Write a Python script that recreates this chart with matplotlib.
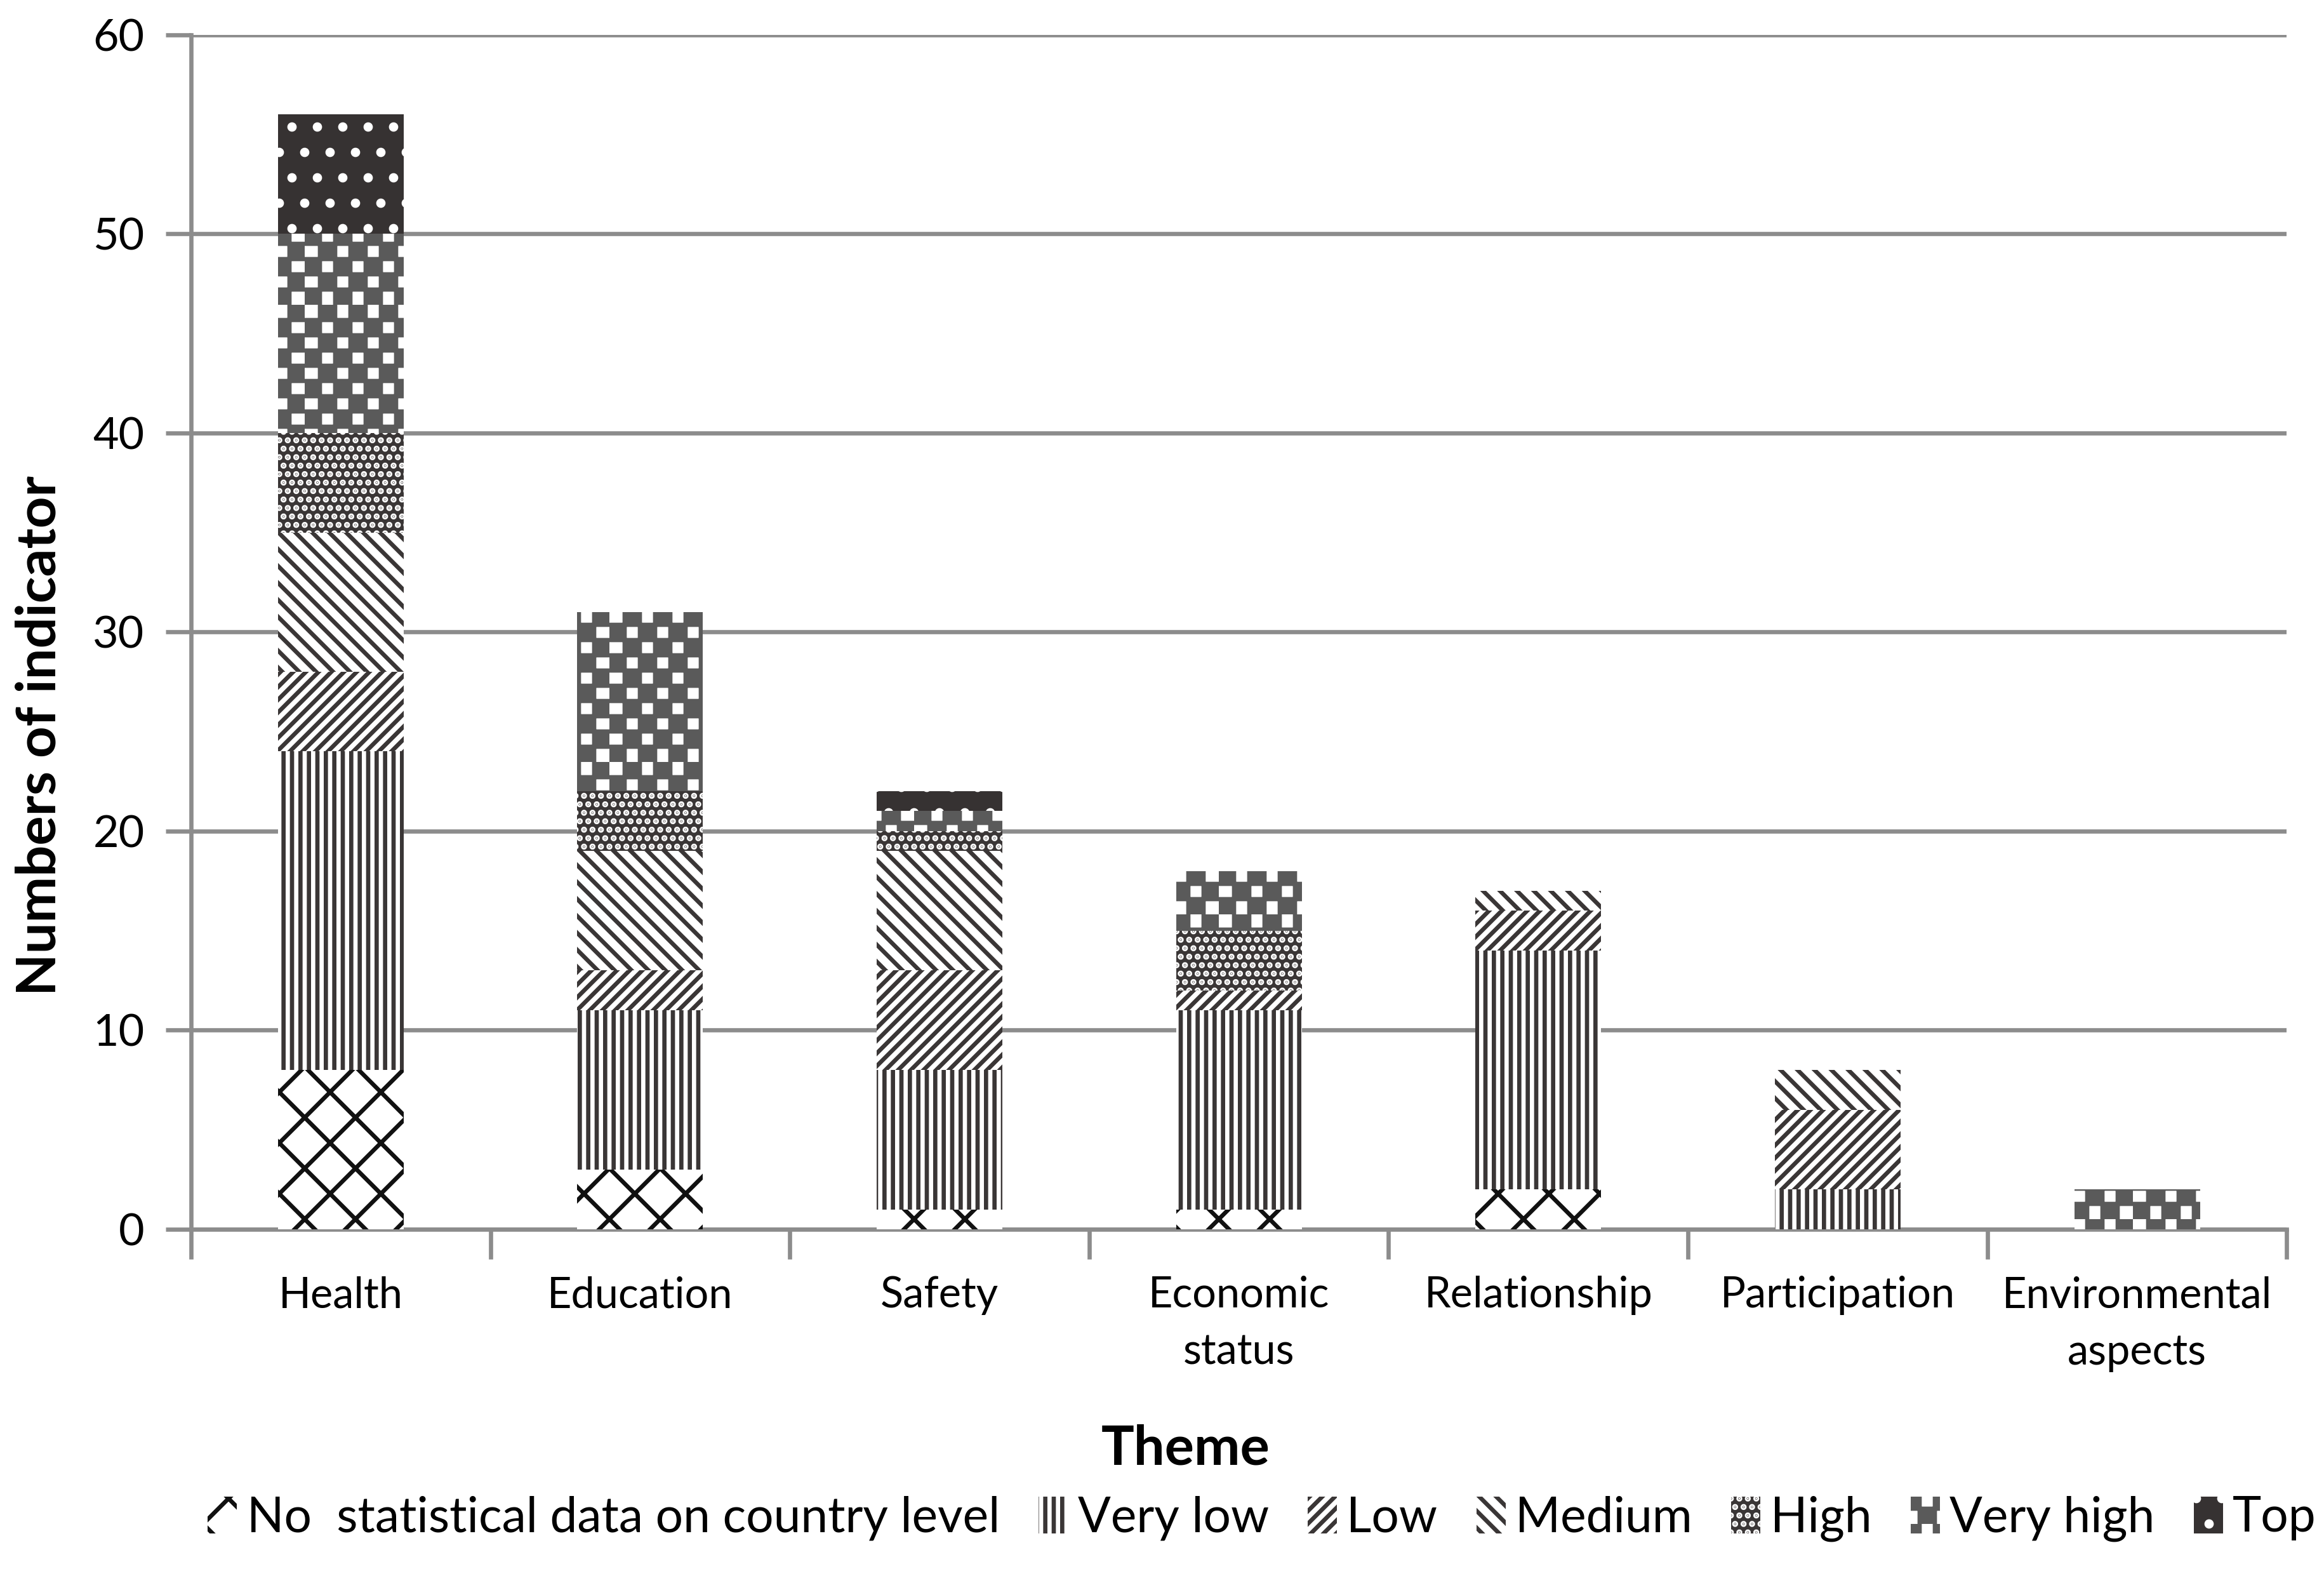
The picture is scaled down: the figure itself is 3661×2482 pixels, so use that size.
import matplotlib
matplotlib.use("Agg")
import matplotlib.pyplot as plt
import matplotlib.hatch as mhatch
from matplotlib.path import Path
import numpy as np
import warnings

warnings.filterwarnings("ignore")

themes = ["Health", "Education", "Safety", "Economic\nstatus", "Relationship",
          "Participation", "Environmental\naspects"]
levels = ["No  statistical data on country level", "Very low", "Low", "Medium",
          "High", "Very high", "Top"]

no_data   = [8, 3, 1, 1, 2, 0, 0]
very_low  = [16, 8, 7, 10, 12, 2, 0]
low       = [4, 2, 5, 1, 2, 4, 0]
medium    = [7, 6, 6, 0, 1, 2, 0]
high      = [5, 3, 1, 3, 0, 0, 0]
very_high = [10, 9, 1, 3, 0, 0, 2]
top       = [6, 0, 1, 0, 0, 0, 0]

series = [no_data, very_low, low, medium, high, very_high, top]


# checkerboard hatch ('c'), matplotlib has none built in
class Checker(mhatch.HatchPatternBase):
    filled = True

    def __init__(self, hatch, density):
        self.n = 10 * hatch.count('c')
        self.num_vertices = (self.n * self.n // 2) * 5

    def set_vertices_and_codes(self, vertices, codes):
        s = 1.0 / self.n
        k = 0
        for i in range(self.n):
            for j in range(self.n):
                if (i + j) % 2:
                    continue
                x0, y0 = i * s, j * s
                vertices[k:k + 5] = [(x0, y0), (x0 + s, y0), (x0 + s, y0 + s),
                                     (x0, y0 + s), (x0, y0)]
                codes[k] = Path.MOVETO
                codes[k + 1:k + 4] = Path.LINETO
                codes[k + 4] = Path.CLOSEPOLY
                k += 5


mhatch._hatch_types.append(Checker)

# (facecolor, hatch colour, hatch)
styles = [
    ("white", "#111111", "x"),
    ("white", "#3a3636", "|||"),
    ("white", "#3a3636", "////"),
    ("white", "#3a3636", "\\\\\\"),
    ("#3a3636", "white", "..."),
    ("white", "#5a5a5a", "c"),
    ("#363232", "white", "."),
]

plt.rcParams['font.family'] = ['Lato', 'DejaVu Sans']
plt.rcParams['hatch.linewidth'] = 2.0

fig = plt.figure(figsize=(3661/240, 2482/240), dpi=240)
ax = fig.add_axes([0.0822, 0.22, 0.9018, 0.758])

x = np.arange(len(themes))
bottom = np.zeros(len(themes))
handles = []
for vals, (fc, hc, h), name in zip(series, styles, levels):
    bars = ax.bar(x, vals, 0.42, bottom=bottom, color=fc, edgecolor=hc,
                  hatch=h, linewidth=0, label=name, zorder=3)
    bottom += np.array(vals)
    handles.append(bars)

ax.set_ylim(0, 60)
ax.set_xlim(-0.5, len(themes) - 0.5)
ax.set_yticks(range(0, 61, 10))
ax.yaxis.grid(True, color="#8c8c8c", linewidth=2, zorder=0)
ax.set_axisbelow(True)

for s in ["top", "right"]:
    ax.spines[s].set_visible(False)
for s in ["left", "bottom"]:
    ax.spines[s].set_color("#8c8c8c")
    ax.spines[s].set_linewidth(2)

ax.set_xticks(x)
ax.set_xticklabels(themes, fontsize=20, linespacing=1.55)
ax.tick_params(axis="x", length=0, pad=22)
ax.set_xticks(np.arange(-0.5, len(themes)), minor=True)
ax.tick_params(axis="x", which="minor", length=14, width=2, color="#8c8c8c")
ax.tick_params(axis="y", labelsize=21, length=12, width=2, color="#8c8c8c", pad=10)

ax.set_ylabel("Numbers of indicator", fontsize=26, fontweight="bold")
ax.yaxis.set_label_coords(-0.06, 0.413)
ax.set_xlabel("Theme", fontsize=26, fontweight="bold")
ax.xaxis.set_label_coords(0.4745, -0.163)

fig.legend(handles=handles, labels=levels, loc="lower center", ncol=7,
           bbox_to_anchor=(0.543, -0.006), frameon=False, fontsize=23,
           handlelength=0.6, handleheight=0.8, handletextpad=0.2,
           columnspacing=0.8)

fig.savefig("out.png", dpi=240)
